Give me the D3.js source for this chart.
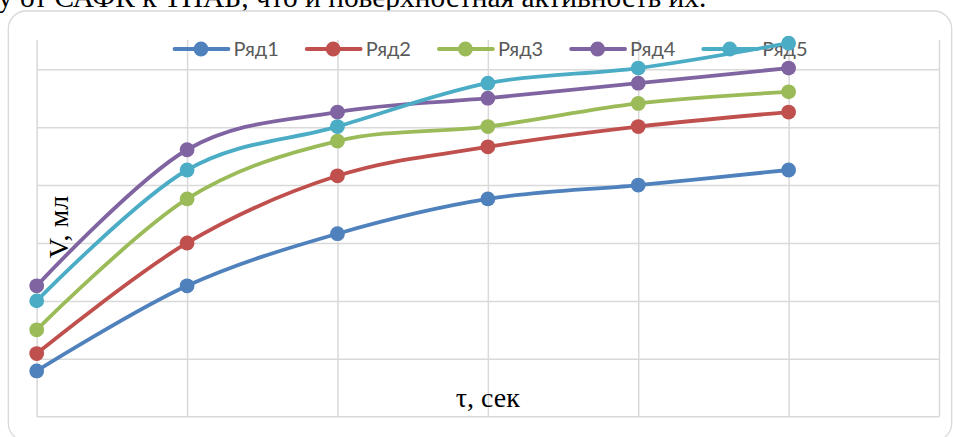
<!DOCTYPE html>
<html>
<head>
<meta charset="utf-8">
<script src="https://cdn.jsdelivr.net/npm/d3@7"></script>
<style>
html,body{margin:0;padding:0;background:#fff;overflow:hidden;}
svg{display:block;}
</style>
</head>
<body>
<svg id="chart" width="953" height="437"></svg>
<script>
// ---- data ----
const xCategories = [0, 1, 2, 3, 4, 5];
const gridTicksX = [0, 1, 2, 3, 4, 5, 6];
const gridTicksY = [1, 2, 3, 4, 5, 6];
const seriesNames = ["Ряд1", "Ряд2", "Ряд3", "Ряд4", "Ряд5"];
const ryad1 = [0.79, 2.26, 3.16, 3.76, 4.0, 4.26];
const ryad2 = [1.09, 3.0, 4.16, 4.66, 5.01, 5.26];
const ryad3 = [1.5, 3.76, 4.76, 5.01, 5.41, 5.61];
const ryad4 = [2.26, 4.61, 5.26, 5.5, 5.76, 6.02];
const ryad5 = [2.0, 4.26, 5.01, 5.76, 6.02, 6.45];
const seriesColors = ["#4F81BD", "#C0504D", "#9BBB59", "#8064A2", "#4BACC6"];
const xTitle = "τ, сек";
const yTitle = "V, мл";
const topText = "у от САФК к ТНАБ, что и поверхностная активность их.";

const allSeries = [ryad1, ryad2, ryad3, ryad4, ryad5];

const svg = d3.select("#chart");
const plotLeft = 36.7, plotRight = 939, plotTop = 40, plotBottom = 416.7;

const x = d3.scaleLinear().domain([0, 6]).range([plotLeft, plotRight]);
const y = d3.scaleLinear().domain([0, 6.5]).range([plotBottom, 40.3]);

// page text above chart (cut off by the top edge, as in the source)
svg.append("text")
  .attr("x", -2).attr("y", 7)
  .attr("font-family", "'Liberation Serif', 'Times New Roman', serif")
  .attr("font-size", 29.4)
  .attr("fill", "#000")
  .text(topText);

// chart border
svg.append("rect")
  .attr("x", 8.3).attr("y", 11).attr("width", 943.4).attr("height", 430)
  .attr("rx", 18).attr("ry", 18)
  .attr("fill", "#fff").attr("stroke", "#d9d9d9").attr("stroke-width", 1.3);

// gridlines
const gx = svg.append("g").attr("transform", `translate(0,${plotBottom})`)
  .call(d3.axisBottom(x).tickValues(gridTicksX).tickSize(-(plotBottom - plotTop)).tickFormat(""));
gx.select(".domain").remove();
gx.selectAll(".tick line").attr("stroke", "#d9d9d9").attr("stroke-width", 1.5);

const gy = svg.append("g").attr("transform", `translate(${plotLeft},0)`)
  .call(d3.axisLeft(y).tickValues(gridTicksY).tickSize(-(plotRight - plotLeft)).tickFormat(""));
gy.select(".domain").remove();
gy.selectAll(".tick line").attr("stroke", "#d9d9d9").attr("stroke-width", 1.5);

svg.append("line")
  .attr("x1", x(0)).attr("x2", x(6)).attr("y1", y(0)).attr("y2", y(0))
  .attr("stroke", "#d9d9d9").attr("stroke-width", 1.5);

// axis titles
svg.append("text")
  .attr("x", x(3)).attr("y", 406.7)
  .attr("text-anchor", "middle")
  .attr("font-family", "'Liberation Serif', 'Times New Roman', serif")
  .attr("font-size", 28).attr("fill", "#000")
  .text(xTitle);

svg.append("text")
  .attr("transform", "translate(68,227) rotate(-90)")
  .attr("text-anchor", "middle")
  .attr("font-family", "'Liberation Serif', 'Times New Roman', serif")
  .attr("font-size", 28).attr("fill", "#000")
  .text(yTitle);

// legend
const legend = svg.append("g");
seriesNames.forEach((name, i) => {
  const lx = 174.5 + i * 132.2, ly = 49;
  const g = legend.append("g");
  g.append("line").attr("x1", lx).attr("x2", lx + 54).attr("y1", ly).attr("y2", ly)
    .attr("stroke", seriesColors[i]).attr("stroke-width", 3.8).attr("stroke-linecap", "round");
  g.append("circle").attr("cx", lx + 26.5).attr("cy", ly).attr("r", 7.4).attr("fill", seriesColors[i]);
  g.append("text").attr("x", lx + 59).attr("y", 55.7)
    .attr("font-family", "Lato, 'Open Sans', sans-serif")
    .attr("font-size", 20).attr("fill", "#595959")
    .text(name);
});

// series
const line = d3.line()
  .x((d, i) => x(xCategories[i]))
  .y(d => y(d))
  .curve(d3.curveCardinal.tension(0));

allSeries.forEach((vals, si) => {
  const g = svg.append("g");
  g.append("path").datum(vals)
    .attr("d", line)
    .attr("fill", "none")
    .attr("stroke", seriesColors[si])
    .attr("stroke-width", 3.8)
    .attr("stroke-linejoin", "round")
    .attr("stroke-linecap", "round");
  g.selectAll("circle").data(vals).join("circle")
    .attr("cx", (d, i) => x(xCategories[i]))
    .attr("cy", d => y(d))
    .attr("r", 7.4)
    .attr("fill", seriesColors[si]);
});
</script>
</body>
</html>
